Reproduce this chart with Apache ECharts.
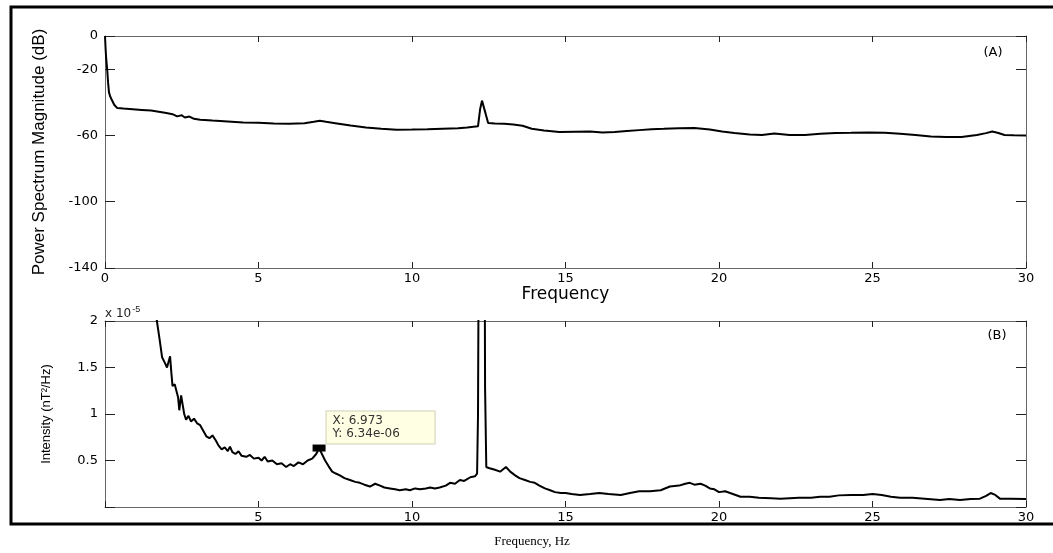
<!DOCTYPE html>
<html>
<head>
<meta charset="utf-8">
<script src="https://cdn.jsdelivr.net/npm/echarts@6/dist/echarts.min.js"></script>
<style>html,body{margin:0;padding:0;background:#fff}#c{width:1053px;height:553px}</style>
</head>
<body>
<div id="c"></div>
<script>
// Panel (A): power spectrum magnitude (dB) vs frequency
const freqA = [0, 0.02, 0.04, 0.07, 0.1, 0.13, 0.17, 0.22, 0.3, 0.4, 0.6, 0.9, 1.2, 1.5, 1.8, 2.0, 2.2, 2.35, 2.5, 2.6, 2.75, 2.9, 3.1, 3.5, 4.0, 4.5, 5.0, 5.5, 6.0, 6.5, 6.8, 7.0, 7.2, 7.5, 8.0, 8.5, 9.0, 9.5, 10.0, 10.5, 11.0, 11.5, 11.8, 12.0, 12.15, 12.22, 12.28, 12.34, 12.4, 12.48, 12.7, 13.0, 13.3, 13.6, 13.9, 14.3, 14.8, 15.3, 15.8, 16.2, 16.6, 17.0, 17.4, 17.8, 18.2, 18.7, 19.2, 19.7, 20.1, 20.5, 21.0, 21.4, 21.8, 22.3, 22.8, 23.3, 23.8, 24.3, 24.9, 25.4, 25.9, 26.4, 26.9, 27.4, 27.9, 28.4, 28.7, 28.9, 29.1, 29.3, 29.6, 30];
const dbA = [0, -8, -14, -20, -28, -34, -36.5, -38.5, -41.5, -43.5, -43.8, -44.2, -44.6, -45, -45.8, -46.5, -47.2, -48.5, -47.8, -49.2, -48.6, -50, -50.5, -51, -51.6, -52.2, -52.4, -52.8, -53, -52.6, -51.8, -51.2, -51.8, -52.6, -54, -55.2, -56, -56.5, -56.4, -56.2, -55.9, -55.6, -55.2, -54.8, -54.5, -44, -39, -40, -47, -52.5, -52.8, -53, -53.4, -54.2, -56, -57, -58, -57.8, -57.6, -58.3, -58, -57.4, -56.8, -56.3, -56, -55.6, -55.5, -56.4, -57.6, -58.5, -59.4, -59.7, -58.8, -59.7, -59.7, -59, -58.5, -58.4, -58.2, -58.4, -59, -59.8, -60.6, -60.9, -61, -59.8, -58.6, -57.6, -58.5, -59.7, -59.9, -60];

// Panel (B): intensity (x 1e-5 nT^2/Hz) vs frequency
const freqB = [1.55, 1.69, 1.78, 1.86, 1.95, 2.02, 2.08, 2.12, 2.16, 2.2, 2.27, 2.33, 2.38, 2.42, 2.48, 2.52, 2.58, 2.64, 2.72, 2.8, 2.9, 3.0, 3.1, 3.2, 3.3, 3.4, 3.5, 3.6, 3.7, 3.8, 3.9, 4.0, 4.07, 4.15, 4.25, 4.35, 4.45, 4.6, 4.72, 4.85, 5.0, 5.1, 5.2, 5.3, 5.45, 5.6, 5.75, 5.9, 6.03, 6.15, 6.3, 6.45, 6.6, 6.75, 6.88, 6.973, 7.05, 7.17, 7.28, 7.4, 7.52, 7.65, 7.8, 7.98, 8.15, 8.3, 8.45, 8.63, 8.8, 8.96, 9.1, 9.28, 9.45, 9.6, 9.8, 9.93, 10.1, 10.26, 10.45, 10.59, 10.75, 10.9, 11.1, 11.24, 11.4, 11.56, 11.7, 11.9, 12.05, 12.12, 12.15, 12.2, 12.35, 12.38, 12.42, 12.5, 12.7, 12.87, 13.06, 13.2, 13.36, 13.5, 13.68, 13.85, 14.0, 14.15, 14.33, 14.5, 14.66, 14.85, 15.0, 15.2, 15.47, 15.8, 16.1, 16.4, 16.8, 17.1, 17.4, 17.75, 18.1, 18.4, 18.7, 18.9, 19.05, 19.2, 19.4, 19.55, 19.7, 19.85, 20.0, 20.2, 20.36, 20.7, 21.0, 21.3, 21.7, 22.0, 22.3, 22.6, 23.0, 23.3, 23.6, 23.9, 24.3, 24.7, 25.0, 25.3, 25.6, 25.9, 26.3, 26.7, 27.2, 27.5, 27.85, 28.2, 28.5, 28.7, 28.85, 29.0, 29.15, 29.5, 30];
const intB = [2.5, 2.0, 1.8, 1.61, 1.55, 1.5, 1.52, 1.62, 1.45, 1.3, 1.32, 1.3, 1.18, 1.04, 1.2, 1.12, 1.0, 0.94, 0.98, 0.92, 0.95, 0.9, 0.88, 0.82, 0.76, 0.74, 0.77, 0.72, 0.66, 0.62, 0.64, 0.6, 0.65, 0.59, 0.57, 0.6, 0.55, 0.54, 0.56, 0.52, 0.53, 0.5, 0.54, 0.49, 0.5, 0.46, 0.47, 0.43, 0.46, 0.44, 0.48, 0.46, 0.5, 0.52, 0.57, 0.634, 0.58, 0.5, 0.44, 0.38, 0.36, 0.34, 0.31, 0.29, 0.27, 0.26, 0.24, 0.22, 0.25, 0.23, 0.21, 0.2, 0.19, 0.18, 0.19, 0.18, 0.2, 0.19, 0.2, 0.21, 0.2, 0.21, 0.23, 0.26, 0.25, 0.29, 0.28, 0.32, 0.33, 0.36, 0.99, 5, 5, 1.29, 0.43, 0.42, 0.4, 0.38, 0.43, 0.38, 0.34, 0.31, 0.29, 0.27, 0.26, 0.23, 0.2, 0.18, 0.16, 0.15, 0.15, 0.14, 0.13, 0.14, 0.15, 0.14, 0.13, 0.15, 0.17, 0.17, 0.18, 0.22, 0.23, 0.25, 0.26, 0.24, 0.25, 0.23, 0.2, 0.19, 0.16, 0.17, 0.15, 0.11, 0.11, 0.1, 0.095, 0.09, 0.095, 0.1, 0.1, 0.11, 0.11, 0.125, 0.13, 0.13, 0.14, 0.13, 0.11, 0.1, 0.1, 0.09, 0.075, 0.085, 0.075, 0.085, 0.09, 0.12, 0.15, 0.13, 0.09, 0.09, 0.085];

// Data tip
const tipX = 6.973;
const tipY = 0.634;
const tipText = ['X: 6.973', 'Y: 6.34e-06'];

// Axis definitions
const xTicks = {min: 0, max: 30, interval: 5};
const yTicksA = {min: -140, max: 0, interval: 40};
const yTicksB = {min: 0, max: 2, interval: 0.5};

const pairs = (xs, ys) => xs.map((x, i) => [x, ys[i]]);

const axisGray = '#666';
const tickFont = {fontFamily: 'DejaVu Sans', fontSize: 13, color: '#000'};

function xAx(grid, pos, showLabel, hideZero, name) {
  return Object.assign({
    type: 'value', gridIndex: grid, position: pos,
    axisLine: {show: true, onZero: false, lineStyle: {color: axisGray, width: 1}},
    axisTick: {show: true, inside: true, length: 6, lineStyle: {color: '#222'}},
    axisLabel: Object.assign({show: showLabel, margin: 4,
      formatter: v => (hideZero && v === 0) ? '' : String(v)}, tickFont),
    splitLine: {show: false},
    name: name || '', nameLocation: 'middle', nameGap: 17,
    nameTextStyle: {fontFamily: 'DejaVu Sans', fontSize: 17, color: '#000'}
  }, xTicks);
}
function yAx(grid, pos, showLabel, ticks, hideZero, name, nameGap, nameStyle) {
  return Object.assign({
    type: 'value', gridIndex: grid, position: pos,
    axisLine: {show: true, onZero: false, lineStyle: {color: axisGray, width: 1}},
    axisTick: {show: true, inside: true, length: 10, lineStyle: {color: '#222'}},
    axisLabel: Object.assign({show: showLabel, margin: 7,
      formatter: v => (hideZero && v === 0) ? '' : String(v)}, tickFont),
    splitLine: {show: false},
    name: name || '', nameLocation: 'middle', nameGap: nameGap || 0,
    nameTextStyle: nameStyle || {}
  }, ticks);
}

const chart = echarts.init(document.getElementById('c'), null, {renderer: 'canvas'});
chart.setOption({
  animation: false,
  backgroundColor: '#fff',
  grid: [
    {left: 105, top: 36, width: 921, height: 232},
    {left: 105, top: 321, width: 921, height: 186}
  ],
  xAxis: [
    xAx(0, 'bottom', true, false, 'Frequency'),
    xAx(0, 'top', false, false),
    xAx(1, 'bottom', true, true),
    xAx(1, 'top', false, false)
  ],
  yAxis: [
    yAx(0, 'left', true, yTicksA, false, 'Power Spectrum Magnitude (dB)', 57,
        {fontFamily: 'Liberation Sans', fontSize: 17, color: '#000'}),
    yAx(0, 'right', false, yTicksA, false),
    yAx(1, 'left', true, yTicksB, true, 'Intensity (nT²/Hz)', 52,
        {fontFamily: 'Liberation Sans', fontSize: 13, color: '#000'}),
    yAx(1, 'right', false, yTicksB, false)
  ],
  series: [
    {
      type: 'line', xAxisIndex: 0, yAxisIndex: 0, data: pairs(freqA, dbA),
      showSymbol: false, symbol: 'none', lineStyle: {color: '#000', width: 2}, clip: true
    },
    {
      type: 'line', xAxisIndex: 2, yAxisIndex: 2, data: pairs(freqB, intB),
      showSymbol: false, symbol: 'none', lineStyle: {color: '#000', width: 2}, clip: true,
      markPoint: {
        symbol: 'rect', symbolSize: [13, 7],
        itemStyle: {color: '#000'},
        data: [{coord: [tipX, tipY]}],
        label: {
          show: true, position: [14, -33],
          formatter: tipText.join('\n'),
          fontFamily: 'DejaVu Sans', fontSize: 12, lineHeight: 13, color: '#333',
          backgroundColor: '#ffffe4', borderColor: '#cfcfb8', borderWidth: 1,
          padding: [3, 6], width: 96, align: 'left', verticalAlign: 'top'
        }
      }
    }
  ],
  graphic: [
    {type: 'rect', shape: {x: 11, y: 7, width: 1060, height: 517}, style: {fill: 'none', stroke: '#000', lineWidth: 3}, silent: true},
    {type: 'text', x: 993, y: 53, style: {text: '(A)', fontFamily: 'DejaVu Sans', fontSize: 13, fill: '#000', textAlign: 'center', textVerticalAlign: 'middle'}},
    {type: 'text', x: 997, y: 336, style: {text: '(B)', fontFamily: 'DejaVu Sans', fontSize: 13, fill: '#000', textAlign: 'center', textVerticalAlign: 'middle'}},
    {type: 'text', x: 105, y: 305, style: {text: 'x 10{s|-5}', rich: {s: {fontSize: 9, verticalAlign: 'top', padding: [0, 0, 8, 1]}}, fontFamily: 'DejaVu Sans', fontSize: 12, fill: '#222'}},
    {type: 'text', x: 532, y: 542, style: {text: 'Frequency, Hz', fontFamily: 'Liberation Serif', fontSize: 13, fill: '#000', textAlign: 'center', textVerticalAlign: 'middle'}}
  ]
});
</script>
</body>
</html>
